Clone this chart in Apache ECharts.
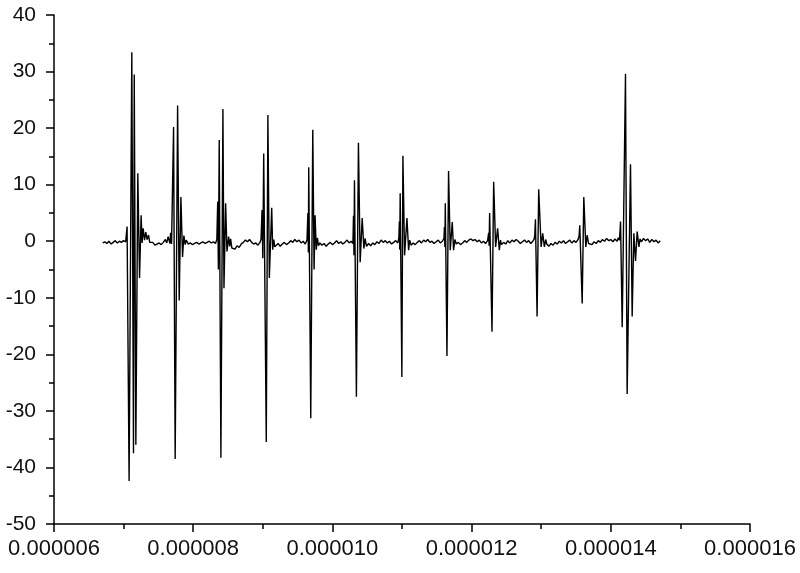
<!DOCTYPE html>
<html>
<head>
<meta charset="utf-8">
<title>signal</title>
<script src="https://cdn.jsdelivr.net/npm/echarts@6/dist/echarts.min.js"></script>
<style>
  html, body { margin: 0; padding: 0; background: #fff; }
  #chart { width: 800px; height: 573px; }
</style>
</head>
<body>
<div id="chart"></div>
<script>
// time in microseconds, amplitude
var leadIn = [[6.70,-0.3],[6.73,-0.1],[6.76,-0.4],[6.79,0.0],[6.82,-0.5],[6.85,-0.2],[6.88,0.1],[6.91,-0.3],[6.94,0.0],[6.97,-0.2],[7.00,0.1],[7.03,-0.1]]
var burst1 = [[7.050,2.6],[7.079,-42.4],[7.118,33.4],[7.142,-37.5],[7.153,29.5],[7.176,-36],[7.204,12],[7.229,-6.5],[7.252,4.6],[7.266,-0.3],[7.281,2.3],[7.301,0.2],[7.319,1.6],[7.338,0.3],[7.358,1.1],[7.375,-0.2],
  [7.39,-0.4],[7.42,-0.2],[7.45,-0.7],[7.48,-0.5],[7.51,-0.3],[7.54,-0.6],[7.57,-0.2],[7.60,0.3],[7.62,-0.3],[7.64,0.8]]
var burst2 = [[7.655,0.7],[7.666,-0.4],[7.675,1.5],[7.689,-0.5],[7.718,20.2],[7.741,-38.5],[7.776,24],[7.799,-10.5],[7.823,7.8],[7.847,-2.8],[7.866,1.0],[7.885,-0.6],[7.90,0.2],
  [7.93,-0.5],[7.96,-0.3],[7.99,-0.6],[8.02,-0.4],[8.05,-0.2],[8.08,-0.5],[8.11,-0.3],[8.14,-0.1],[8.17,-0.4],[8.20,-0.2],[8.23,0.0],[8.26,-0.3],[8.29,-0.1],[8.32,-0.4]]
var burst3 = [[8.34,0.3],[8.352,7.0],[8.362,-5.0],[8.374,17.9],[8.398,-38.3],[8.427,23.4],[8.442,-8.3],[8.466,6.7],[8.485,-1.8],[8.509,0.8],[8.524,-0.9],[8.538,0.4],[8.555,-1.2],
  [8.57,-1.0],[8.60,-1.4],[8.63,-0.8],[8.66,-1.1],[8.69,-0.5],[8.72,-0.2],[8.75,0.2],[8.78,-0.1],[8.81,0.3],[8.84,-0.2],[8.87,-0.5],[8.90,-0.3],[8.93,-0.7],[8.96,-0.2]]
var burst4 = [[8.975,0.4],[8.989,5.5],[9.000,-3.0],[9.013,15.5],[9.050,-35.5],[9.073,22.3],[9.094,-6.5],[9.128,5.9],[9.142,-1.5],[9.158,0.3],[9.172,-1.0],
  [9.19,-0.8],[9.22,-0.4],[9.25,-0.9],[9.28,-0.5],[9.31,-0.2],[9.34,-0.6],[9.37,-0.3],[9.40,0.1],[9.43,-0.2],[9.46,0.3],[9.49,-0.1],[9.52,0.2],[9.55,-0.3],[9.58,0.0],[9.61,-0.5],[9.635,0.2]]
var burst5 = [[9.640,0.4],[9.648,5.0],[9.655,-2.0],[9.660,13.1],[9.689,-31.3],[9.718,19.7],[9.737,-5.0],[9.751,4.6],[9.768,-1.5],[9.785,0.6],[9.80,-0.8],
  [9.82,-0.3],[9.85,-0.7],[9.88,-0.4],[9.91,-0.9],[9.94,-0.5],[9.97,-0.2],[10.00,-0.6],[10.03,-0.3],[10.06,0.1],[10.09,-0.4],[10.12,-0.1],[10.15,-0.5],[10.18,-0.2],[10.21,0.2],[10.24,-0.3],[10.27,0.0],[10.295,-0.4]]
var burst6 = [[10.303,4.5],[10.310,-2.5],[10.317,10.8],[10.345,-27.5],[10.374,17.4],[10.399,-3.7],[10.428,4.1],[10.452,-1.3],[10.47,0.5],[10.49,-0.9],
  [10.52,-0.4],[10.55,-0.8],[10.58,-0.3],[10.61,-0.6],[10.64,-0.1],[10.67,-0.4],[10.70,0.2],[10.73,-0.2],[10.76,0.1],[10.79,-0.3],[10.82,0.0],[10.85,-0.5],[10.88,-0.2],[10.91,0.1],[10.94,-0.3]]
var burst7 = [[10.955,0.6],[10.962,3.5],[10.968,-1.5],[10.974,8.5],[10.998,-24],[11.013,15.1],[11.037,-2.5],[11.055,1.0],[11.071,4.1],[11.095,-1.6],[11.11,0.2],
  [11.13,-0.7],[11.16,-0.3],[11.19,-0.6],[11.22,-0.2],[11.25,0.1],[11.28,-0.3],[11.31,0.2],[11.34,-0.1],[11.37,0.3],[11.40,-0.2],[11.43,0.0],[11.46,-0.4],[11.49,-0.1],[11.52,0.2],[11.55,-0.3],[11.58,0.0]]
var burst8 = [[11.603,0.5],[11.610,2.5],[11.616,-1.0],[11.622,6.7],[11.646,-20.3],[11.669,12.4],[11.693,-1.6],[11.722,3.4],[11.741,-1.6],[11.76,0.3],
  [11.78,-0.5],[11.81,-0.2],[11.84,-0.6],[11.87,-0.3],[11.90,0.1],[11.93,-0.2],[11.96,0.2],[11.99,0.4],[12.02,0.1],[12.05,0.3],[12.08,-0.1],[12.11,0.2],[12.14,-0.3],[12.17,0.0],[12.20,-0.4],[12.23,0.1]]
var burst9 = [[12.245,1.5],[12.252,-0.8],[12.259,5.0],[12.293,-16],[12.317,10.5],[12.345,-1.0],[12.374,2.3],[12.398,-1.6],[12.415,0.2],
  [12.43,-0.6],[12.46,-0.2],[12.49,-0.5],[12.52,0.1],[12.55,-0.3],[12.58,0.2],[12.61,-0.1],[12.64,0.3],[12.67,0.0],[12.70,-0.4],[12.73,-0.1],[12.76,0.2],[12.79,-0.2],[12.82,0.1],[12.85,-0.4],[12.88,0.0]]
var burst10 = [[12.900,0.4],[12.908,1.2],[12.917,3.9],[12.941,-13.3],[12.964,9.2],[12.999,-1.0],[13.022,1.4],[13.046,-1.0],[13.065,0.3],
  [13.08,-0.5],[13.11,-0.9],[13.14,-0.4],[13.17,-0.7],[13.20,-0.2],[13.23,-0.5],[13.26,0.0],[13.29,-0.3],[13.32,0.1],[13.35,-0.4],[13.38,-0.1],[13.41,0.2],[13.44,-0.3],[13.47,0.1],[13.50,-0.2],[13.53,0.3]]
var burst11 = [[13.545,1.0],[13.554,2.8],[13.589,-11.0],[13.612,7.8],[13.641,-1.0],[13.661,1.1],[13.68,-0.4],
  [13.70,-0.2],[13.73,-0.6],[13.76,-0.1],[13.79,-0.4],[13.82,0.1],[13.85,-0.2],[13.88,0.3],[13.91,0.0],[13.94,0.5],[13.97,0.1],[14.00,0.3],[14.03,-0.1],[14.06,0.4],[14.09,0.0],[14.11,0.6]]
var burst12 = [[14.125,0.2],[14.140,3.5],[14.164,-15.2],[14.211,29.6],[14.235,-27],[14.283,13.6],[14.307,-13.3],[14.331,1.4],[14.355,-3.5],[14.379,1.7],[14.404,-1.0],[14.42,0.4],
  [14.44,-0.1],[14.47,0.5],[14.50,0.1],[14.53,0.4],[14.56,-0.2],[14.59,0.3],[14.62,-0.1],[14.65,0.2],[14.68,-0.3],[14.71,0.1]]

var xMin = 6e-6, xMax = 16e-6, xStep = 2e-6
var yMin = -50, yMax = 40, yStep = 10

var segments = [leadIn, burst1, burst2, burst3, burst4, burst5, burst6, burst7, burst8, burst9, burst10, burst11, burst12]
var data = []
segments.forEach(function (seg) {
  seg.forEach(function (p) {
    data.push([p[0] * 1e-6, p[1]])
  })
})

var chart = echarts.init(document.getElementById('chart'))
var axisColor = '#000'
chart.setOption({
  animation: false,
  backgroundColor: '#fff',
  grid: { left: 54, top: 15, right: 50, bottom: 49 },
  xAxis: {
    type: 'value',
    min: xMin,
    max: xMax,
    interval: xStep,
    splitLine: { show: false },
    axisLine: { onZero: false, lineStyle: { color: axisColor, width: 1.5 } },
    axisTick: { length: 8, lineStyle: { color: axisColor, width: 1.5 } },
    minorTick: { show: true, splitNumber: 2, length: 5, lineStyle: { color: axisColor, width: 1.5 } },
    axisLabel: {
      color: '#111',
      fontFamily: 'Liberation Sans',
      fontSize: 22,
      margin: 14,
      formatter: function (v) { return v.toFixed(6) }
    }
  },
  yAxis: {
    type: 'value',
    min: yMin,
    max: yMax,
    interval: yStep,
    splitLine: { show: false },
    axisLine: { onZero: false, lineStyle: { color: axisColor, width: 1.5 } },
    axisTick: { length: 8, lineStyle: { color: axisColor, width: 1.5 } },
    minorTick: { show: true, splitNumber: 2, length: 5, lineStyle: { color: axisColor, width: 1.5 } },
    axisLabel: {
      color: '#111',
      fontFamily: 'Liberation Sans',
      fontSize: 21,
      margin: 18
    }
  },
  series: [{
    type: 'line',
    data: data,
    showSymbol: false,
    sampling: null,
    lineStyle: { color: '#000', width: 1.4 },
    emphasis: { disabled: true }
  }]
})
</script>
</body>
</html>
